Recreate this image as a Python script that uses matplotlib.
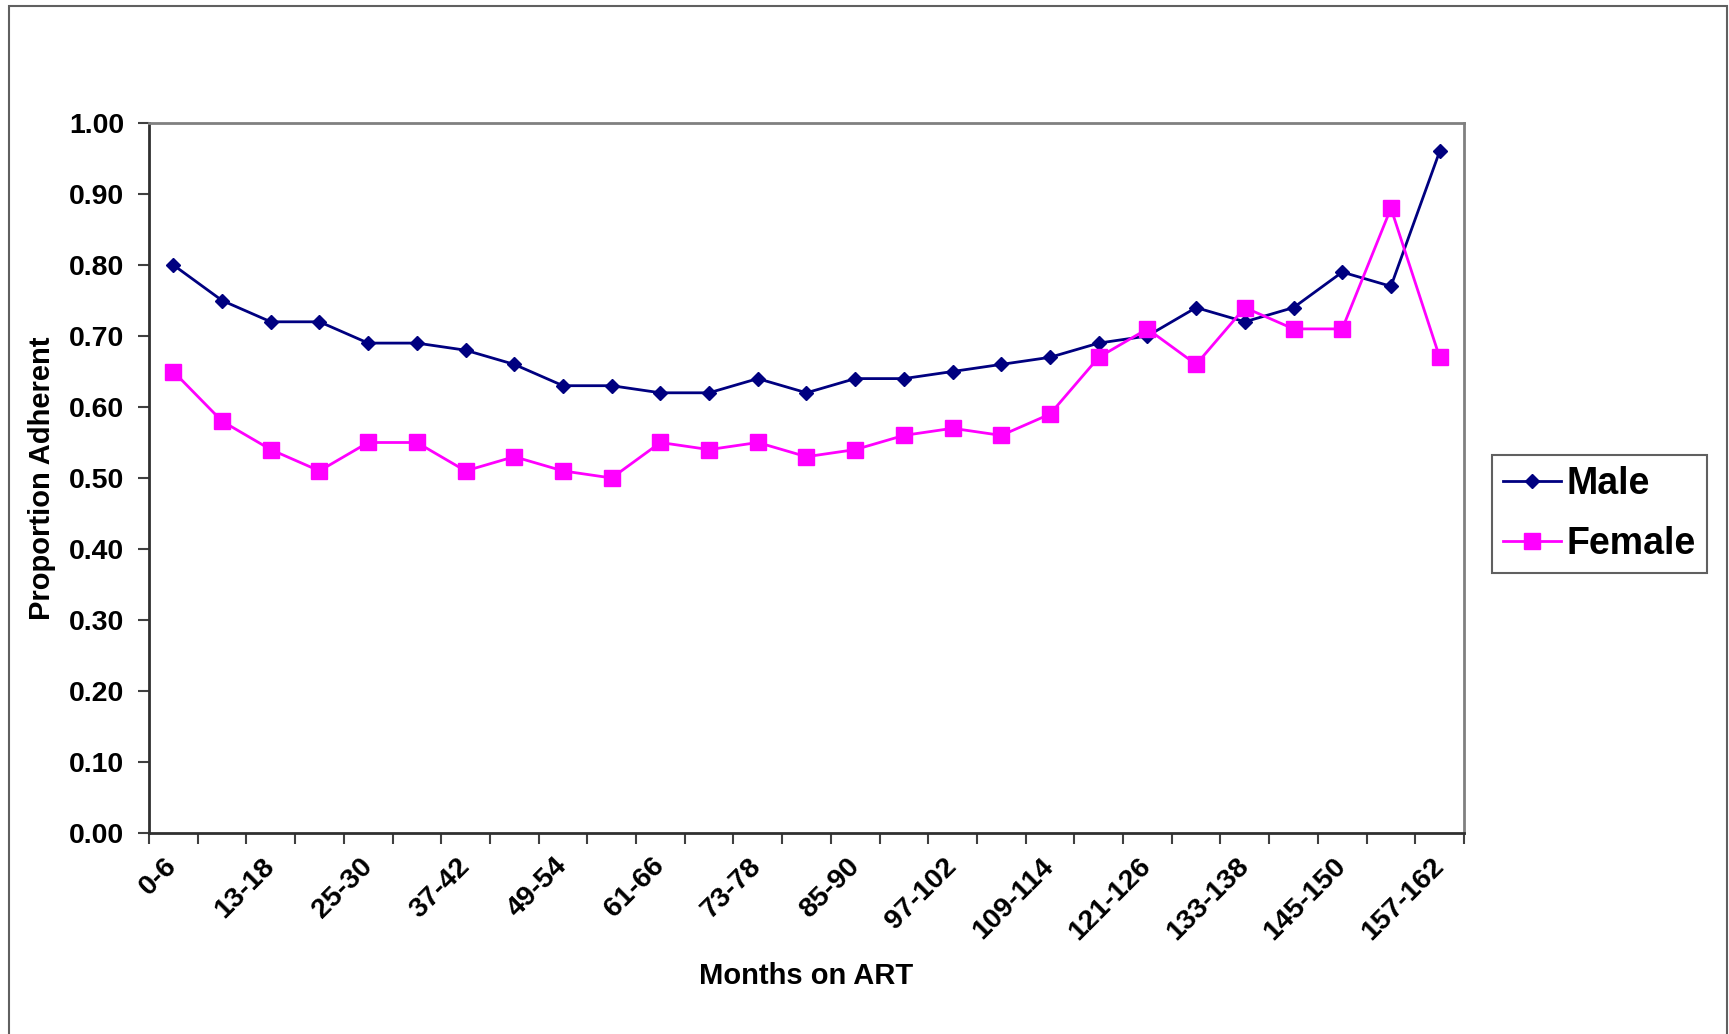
import matplotlib
matplotlib.use("Agg")
import matplotlib.pyplot as plt
from matplotlib.patches import Rectangle

categories = ["0-6", "7-12", "13-18", "19-24", "25-30", "31-36", "37-42", "43-48",
              "49-54", "55-60", "61-66", "67-72", "73-78", "79-84", "85-90", "91-96",
              "97-102", "103-108", "109-114", "115-120", "121-126", "127-132",
              "133-138", "139-144", "145-150", "151-156", "157-162"]
male = [0.80, 0.75, 0.72, 0.72, 0.69, 0.69, 0.68, 0.66, 0.63, 0.63, 0.62, 0.62, 0.64,
        0.62, 0.64, 0.64, 0.65, 0.66, 0.67, 0.69, 0.70, 0.74, 0.72, 0.74, 0.79, 0.77, 0.96]
female = [0.65, 0.58, 0.54, 0.51, 0.55, 0.55, 0.51, 0.53, 0.51, 0.50, 0.55, 0.54, 0.55,
          0.53, 0.54, 0.56, 0.57, 0.56, 0.59, 0.67, 0.71, 0.66, 0.74, 0.71, 0.71, 0.88, 0.67]
yticks = [0.0, 0.1, 0.2, 0.3, 0.4, 0.5, 0.6, 0.7, 0.8, 0.9, 1.0]

plt.rcParams['font.family'] = ['Liberation Sans', 'DejaVu Sans']
plt.rcParams['font.weight'] = 'bold'

W, H = 1729, 1034
fig = plt.figure(figsize=(W / 100, H / 100), dpi=100)
L, R, T, B = 149, 1464, 123, 833
ax = fig.add_axes([L / W, 1 - B / H, (R - L) / W, (B - T) / H])

x = list(range(len(categories)))
ax.plot(x, male, color='#000080', lw=2.0, marker='D', ms=7.6, label='Male')
ax.plot(x, female, color='#FF00FF', lw=2.0, marker='s', ms=11, label='Female')

ax.set_xlim(-0.5, len(categories) - 0.5)
ax.set_ylim(0, 1)
ax.set_yticks(yticks)
ax.set_yticklabels([f"{v:.2f}" for v in yticks], fontsize=20.5, fontweight='bold')

# category boundaries as ticks, labels every second category
ax.set_xticks([i - 0.5 for i in range(len(categories) + 1)])
ax.set_xticklabels([])
ax.set_xticks(x[::2], minor=True)
ax.set_xticklabels(categories[::2], minor=True, rotation=45, ha='right', va='center',
                   rotation_mode='anchor', fontsize=20.5, fontweight='bold')
ax.tick_params(axis='x', which='major', direction='out', length=8, width=1.5, color='#404040')
ax.tick_params(axis='x', which='minor', length=0, pad=21)
ax.tick_params(axis='y', direction='out', length=8, width=1.5, color='#404040', pad=10)

for s in ['top', 'right']:
    ax.spines[s].set_color('#808080')
    ax.spines[s].set_linewidth(2)
for s in ['left', 'bottom']:
    ax.spines[s].set_color('#303030')
    ax.spines[s].set_linewidth(2)

ax.set_xlabel("Months on ART", fontsize=21, fontweight='bold', va='center')
ax.xaxis.set_label_coords(0.5, (B - 976) / (B - T))
ax.set_ylabel("Proportion Adherent", fontsize=21, fontweight='bold', va='center')
ax.yaxis.set_label_coords((42 - L) / (R - L), 0.5)

leg = fig.legend(loc='center left', bbox_to_anchor=(1492 / W, 1 - 514 / H),
                 prop={'weight': 'bold', 'size': 27}, fancybox=False,
                 edgecolor='#606060', framealpha=1, handlelength=1.55,
                 handletextpad=0.14, labelspacing=0.62, borderpad=0.3,
                 borderaxespad=0)
leg.get_frame().set_linewidth(1.5)

fig.patches.append(Rectangle((9 / W, -0.02), (1727 - 9) / W, 1.02 - 6 / H,
                             transform=fig.transFigure, fill=False,
                             edgecolor='#606060', lw=1.5))

fig.savefig("out.png", dpi=100, facecolor='white')
